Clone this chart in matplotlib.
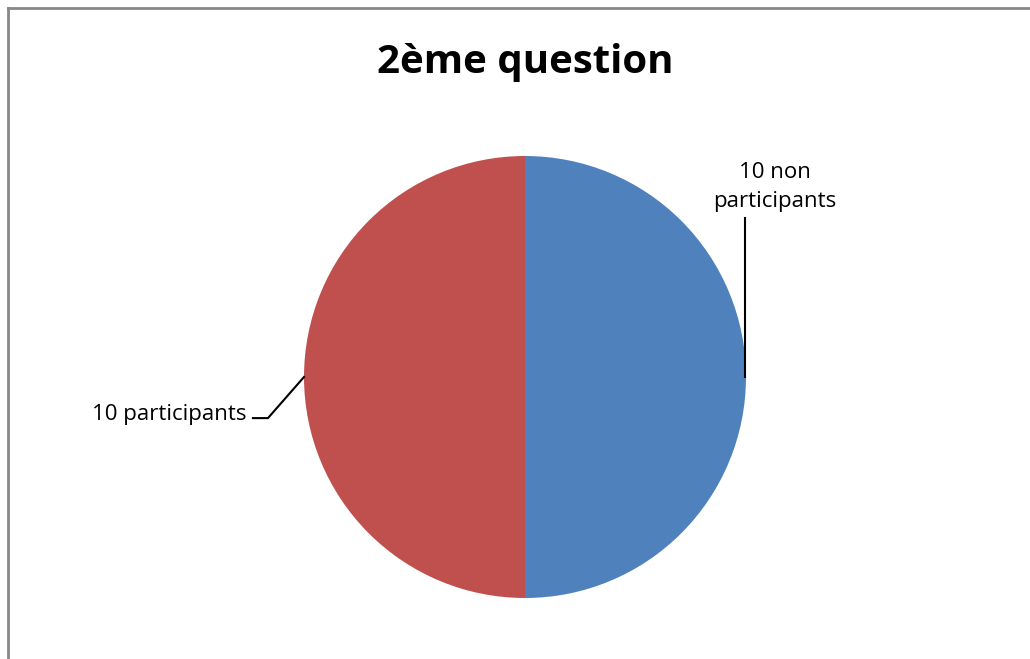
import numpy as np
import matplotlib
matplotlib.use("Agg")
import matplotlib.pyplot as plt
from matplotlib.lines import Line2D

title = "2ème question"
labels = ["10 non\nparticipants", "10 participants"]
values = [10, 10]
colors = ["#4F81BD", "#C0504D"]

plt.rcParams["font.family"] = ["Open Sans", "DejaVu Sans"]

W, H = 1030, 659
fig = plt.figure(figsize=(W / 100, H / 100), dpi=100)
fig.patch.set_facecolor("white")

# border on top and left only (as in the original)
fig.add_artist(Line2D([7.5 / W, 7.5 / W], [0, 1 - 7.5 / H], transform=fig.transFigure,
                      color="#888888", lw=2))
fig.add_artist(Line2D([7.5 / W, 1], [1 - 7.5 / H, 1 - 7.5 / H], transform=fig.transFigure,
                      color="#888888", lw=2))

cx, cy, r = 525, 377, 221
ax = fig.add_axes([(cx - r) / W, (H - cy - r) / H, 2 * r / W, 2 * r / H])
wedges, _ = ax.pie(values, colors=colors, startangle=90, counterclock=False, radius=1)
ax.set_xlim(-1, 1)
ax.set_ylim(-1, 1)
ax.set_aspect("equal")
ax.axis("off")

# leader lines + labels
# non participants: vertical line from wedge edge up to label
ax.plot([0.995, 0.995], [0.0, 0.72], color="black", lw=1.5, clip_on=False)
ax.text(1.13, 0.86, labels[0], ha="center", va="center", fontsize=16,
        linespacing=1.5, clip_on=False)
# participants
ax.plot([-1.0, -1.163, -1.231], [0.0, -0.186, -0.186], color="black", lw=1.5, clip_on=False)
ax.text(-1.262, -0.17, labels[1], ha="right", va="center", fontsize=16, clip_on=False)

fig.text(525 / W, 1 - 62 / H, title, ha="center", va="center", fontsize=29,
         fontweight="bold")

fig.savefig("out.png", dpi=100)
